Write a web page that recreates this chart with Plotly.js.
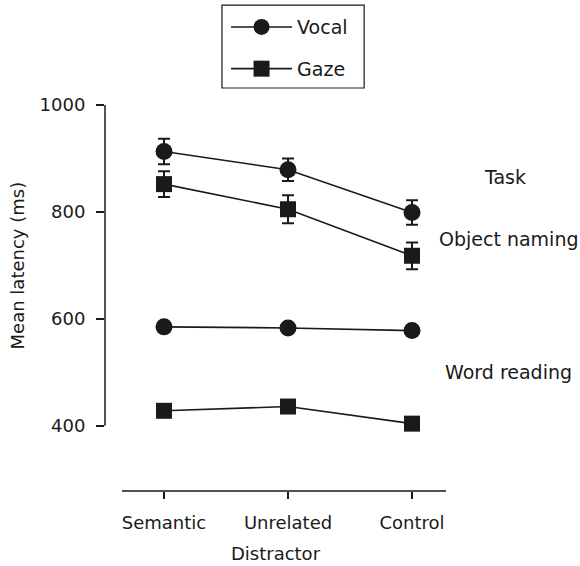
<!DOCTYPE html>
<html>
<head>
<meta charset="utf-8">
<script src="https://cdn.plot.ly/plotly-3.0.1.min.js"></script>
<style>html,body{margin:0;padding:0;background:#fff;}#chart{width:580px;height:566px;}</style>
</head>
<body>
<div id="chart"></div>
<script>
var categories = ["Semantic", "Unrelated", "Control"];
var vocalNaming = [913, 879, 799];
var vocalNamingErr = [24, 21, 23];
var gazeNaming = [852, 805, 718];
var gazeNamingErr = [24, 26, 25];
var vocalReading = [585, 583, 578];
var vocalReadingErr = [6, 6, 6];
var gazeReading = [428, 436, 404];
var gazeReadingErr = [6, 6, 6];
var yTicks = [400, 600, 800, 1000];

var ink = "#1a1a1a";
var FONT = "DejaVu Sans, Verdana, sans-serif";

function series(y, err, sym, size, name, show, grp) {
  return {
    type: "scatter", mode: "lines+markers", x: categories, y: y, name: name,
    showlegend: show, legendgroup: grp,
    line: {color: ink, width: 1.6},
    marker: {symbol: sym, size: size, color: ink},
    error_y: {type: "data", array: err, visible: true, color: ink, thickness: 2, width: 6}
  };
}

var data = [
  series(vocalNaming, vocalNamingErr, "circle", 17, "Vocal", true, "a"),
  series(gazeNaming, gazeNamingErr, "square", 16, "Gaze", true, "b"),
  series(vocalReading, vocalReadingErr, "circle", 17, "Vocal", false, "a"),
  series(gazeReading, gazeReadingErr, "square", 16, "Gaze", false, "b")
];

var layout = {
  width: 580, height: 566,
  margin: {l: 105, r: 134, t: 105, b: 75, autoexpand: false},
  paper_bgcolor: "#fff", plot_bgcolor: "#fff",
  font: {family: FONT, size: 18, color: ink},
  showlegend: true,
  legend: {
    x: 0.355, y: 1.251, xanchor: "left", yanchor: "top",
    borderwidth: 0, bgcolor: "rgba(0,0,0,0)",
    font: {family: FONT, size: 19, color: ink},
    traceorder: "grouped", tracegroupgap: 14, itemwidth: 61
  },
  xaxis: {
    type: "category", range: [-0.476, 2.274],
    showline: false, showgrid: false, zeroline: false,
    ticks: "outside", ticklen: 7, tickwidth: 1.5, tickcolor: ink,
    ticklabelstandoff: 8,
    tickfont: {family: FONT, size: 18, color: ink},
    title: {text: "Distractor", font: {family: FONT, size: 18, color: ink}, standoff: 15}
  },
  yaxis: {
    range: [278, 1000],
    showline: false, showgrid: false, zeroline: false,
    tickvals: yTicks, ticktext: yTicks.map(String),
    ticks: "outside", ticklen: 8, tickwidth: 1.5, tickcolor: ink,
    ticklabelstandoff: 7,
    tickfont: {family: FONT, size: 18, color: ink}
  },
  shapes: [
    {type: "line", xref: "paper", yref: "y", x0: 0, x1: 0, y0: 400, y1: 1000, line: {color: ink, width: 1.5}},
    {type: "line", xref: "x", yref: "paper", x0: -0.339, x1: 2.274, y0: 0, y1: 0, line: {color: ink, width: 1.5}},
    {type: "rect", xref: "paper", yref: "paper", x0: 0.343, x1: 0.76, y0: 1.259, y1: 1.044, line: {color: ink, width: 1.2}, fillcolor: "rgba(0,0,0,0)"}
  ],
  annotations: [
    {text: "Mean latency (ms)", textangle: -90, xref: "paper", yref: "y", x: -0.258, y: 700, xanchor: "center", yanchor: "middle", showarrow: false, font: {family: FONT, size: 18, color: ink}},
    {text: "Task", xref: "paper", yref: "paper", x: 1.173, y: 0.813, xanchor: "center", yanchor: "middle", showarrow: false, font: {family: FONT, size: 19, color: ink}},
    {text: "Object naming", xref: "paper", yref: "paper", x: 1.185, y: 0.653, xanchor: "center", yanchor: "middle", showarrow: false, font: {family: FONT, size: 19, color: ink}},
    {text: "Word reading", xref: "paper", yref: "paper", x: 1.183, y: 0.308, xanchor: "center", yanchor: "middle", showarrow: false, font: {family: FONT, size: 19, color: ink}}
  ]
};

Plotly.newPlot("chart", data, layout, {displayModeBar: false, staticPlot: true});
</script>
</body>
</html>
